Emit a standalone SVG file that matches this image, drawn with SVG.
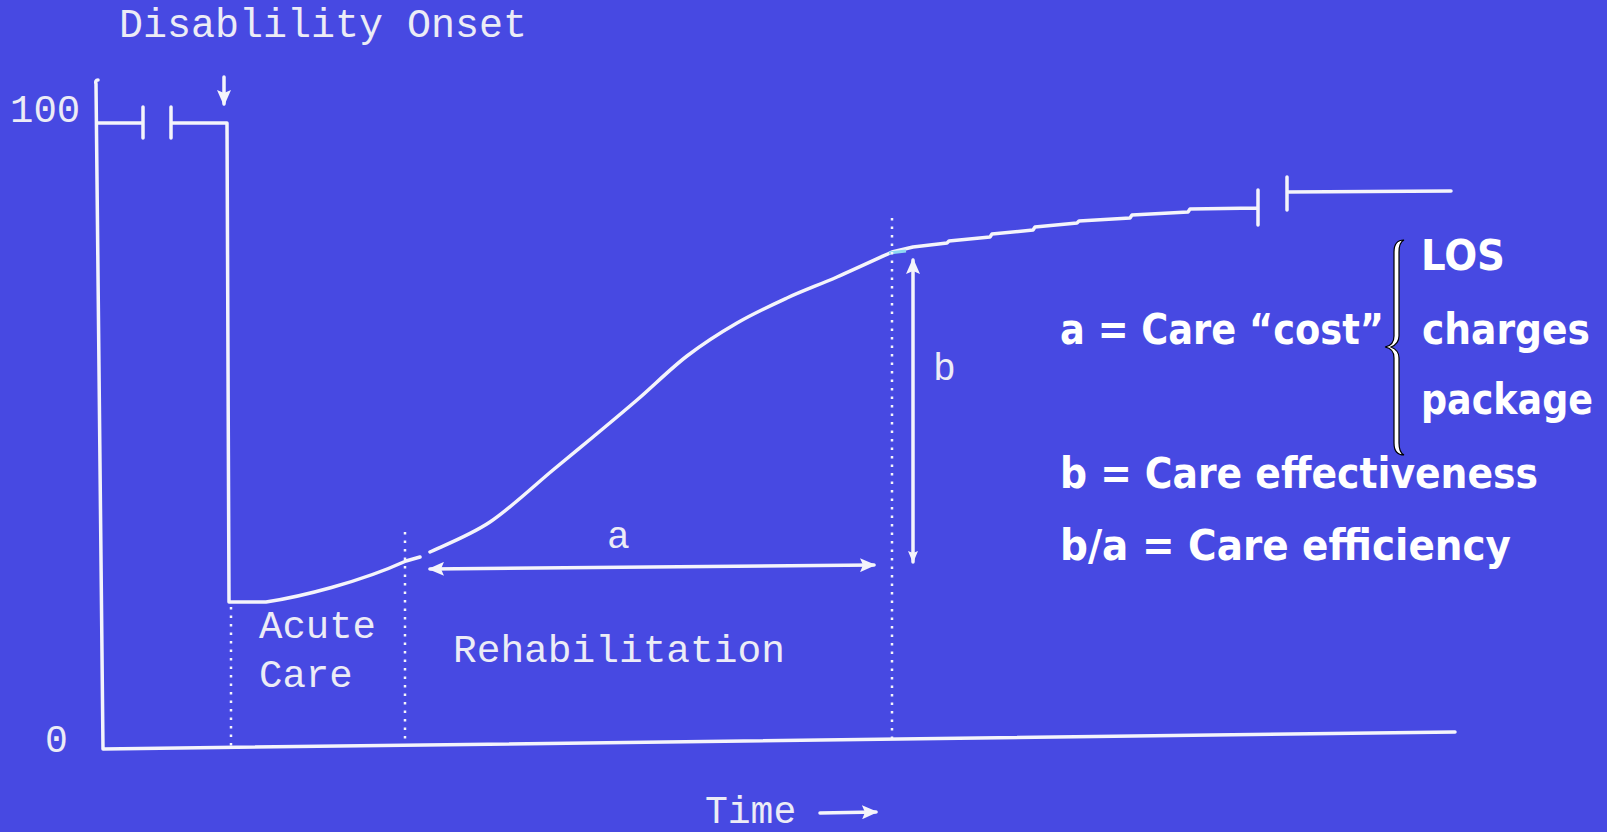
<svg xmlns="http://www.w3.org/2000/svg" width="1607" height="832" viewBox="0 0 1607 832">
<defs>
<marker id="ah" viewBox="0 0 16 14" refX="14" refY="7" markerWidth="16" markerHeight="14" markerUnits="userSpaceOnUse" orient="auto-start-reverse">
<path d="M0,0 L16,7 L0,14 L3,7 Z" fill="#F4F4FB"/>
</marker>
<marker id="ahs" viewBox="0 0 12 10" refX="11" refY="5" markerWidth="12" markerHeight="10" markerUnits="userSpaceOnUse" orient="auto-start-reverse">
<path d="M0,0 L12,5 L0,10 L2,5 Z" fill="#F4F4FB"/>
</marker>
</defs>
<style>
.ln{fill:none;stroke:#F4F4FB;stroke-width:3.5;stroke-linecap:round;stroke-linejoin:round}
.dot{fill:none;stroke:#F4F4FB;stroke-width:2.5;stroke-dasharray:2.5 6}
.mono{font-family:"Liberation Mono","Courier New",monospace;fill:#ECECF6}
.bold{font-family:"DejaVu Sans","Liberation Sans",sans-serif;font-weight:bold;font-stretch:condensed;font-size:42px;fill:#FFFFFF}
</style>
<rect width="1607" height="832" fill="#4749E2"/>

<g id="axes">
<path class="ln" d="M98,80 Q95,80 96,84 L103,749 L1455,732"/>
</g>

<g id="curve">
<path class="ln" d="M97,123 L143,123 M143,107 L143,138 M171,107 L171,138 M171,123 L227,123 L229,602 L266,602 C300,597 360,582 406,561 L420,557"/>
<path class="ln" d="M430,552 C440,547 469.5,535.7 490,522 C510.5,508.3 535.8,484.2 553,470 C570.2,455.8 579,448.7 593,437 C607,425.3 621.3,413.5 637,400 C652.7,386.5 670.3,368.8 687,356 C703.7,343.2 720.3,332.7 737,323 C753.7,313.3 770.3,305.7 787,298 C803.7,290.3 819.5,284.7 837,277 C854.5,269.3 882.8,256.2 892,252 L913,247 L947,243 L949,241 L990,237 L992,234 L1033,230 L1035,227 L1077,223 L1079,221 L1130,218 L1132,215 L1188,212 L1190,209 L1258,208 M1258,190 L1258,225 M1287,177 L1287,210 M1287,192 L1451,191"/>
<path d="M889,253 L906,251" stroke="#8FD8F2" stroke-width="3" fill="none"/>
</g>

<g id="dividers">
<path class="dot" d="M231,607 L231,748"/>
<path class="dot" d="M405,532 L405,744"/>
<path class="dot" d="M892,218 L892,738"/>
</g>

<g id="connectors">
<path class="ln" d="M224,77 L224,104" marker-end="url(#ah)"/>
<path class="ln" d="M430,569 L874,565" marker-start="url(#ah)" marker-end="url(#ah)"/>
<path class="ln" d="M913,562 L913,260" marker-start="url(#ahs)" marker-end="url(#ah)"/>
<path class="ln" d="M820,813 L876,812" marker-end="url(#ah)"/>
</g>

<g id="brace">
<path d="M1404,240 C1398,240 1394,244 1394,252 L1394,336 C1394,342 1391,346 1385,347 C1391,348 1394,352 1394,358 L1394,443 C1394,451 1398,455 1404,455 C1400,453 1399,449 1399,443 L1399,358 C1399,352 1396,349 1391,347 C1396,345 1399,342 1399,336 L1399,252 C1399,246 1400,242 1404,240 Z" fill="#FFFFFF" stroke="#000000" stroke-width="1.2"/>
</g>

<g id="labels">
<text class="mono" x="119" y="37" font-size="40">Disablility Onset</text>
<text class="mono" x="10" y="122" font-size="39">100</text>
<text class="mono" x="45" y="752" font-size="38">0</text>
<text class="mono" x="259" y="638" font-size="39">Acute</text>
<text class="mono" x="259" y="687" font-size="39">Care</text>
<text class="mono" x="453" y="662" font-size="39.5">Rehabilitation</text>
<text class="mono" x="607" y="548" font-size="38">a</text>
<text class="mono" x="933" y="380" font-size="38">b</text>
<text class="mono" x="705" y="823" font-size="38">Time</text>
</g>

<g id="legend">
<text class="bold" x="1421" y="270" textLength="84" lengthAdjust="spacingAndGlyphs">LOS</text>
<text class="bold" x="1060" y="344" textLength="324" lengthAdjust="spacingAndGlyphs">a = Care “cost”</text>
<text class="bold" x="1422" y="344" textLength="168" lengthAdjust="spacingAndGlyphs">charges</text>
<text class="bold" x="1421" y="414" textLength="172" lengthAdjust="spacingAndGlyphs">package</text>
<text class="bold" x="1060" y="488" textLength="478" lengthAdjust="spacingAndGlyphs">b = Care effectiveness</text>
<text class="bold" x="1060" y="560" textLength="451" lengthAdjust="spacingAndGlyphs">b/a = Care efficiency</text>
</g>
</svg>
